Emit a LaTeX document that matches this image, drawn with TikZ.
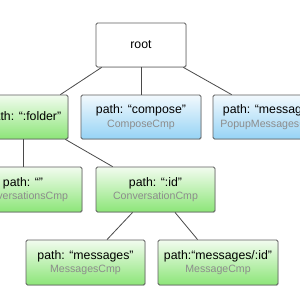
\documentclass[tikz,border=0pt]{standalone}
\usepackage{fontspec}
\setmainfont{Liberation Sans}
\usetikzlibrary{shadows,calc}
\definecolor{gtop}{HTML}{F2FCEF}
\definecolor{gbot}{HTML}{8CE578}
\definecolor{btop}{HTML}{F2F9FD}
\definecolor{bbot}{HTML}{96D3F5}
\definecolor{cmpgray}{HTML}{8C8C8C}
\definecolor{edge}{HTML}{4A4A4A}
\definecolor{frame}{HTML}{5E5E5E}
\tikzset{
  basebox/.style={draw=frame, line width=0.8pt, rounded corners=1.5pt,
    minimum height=44pt, inner sep=0pt, align=center,
    font=\fontsize{12.3}{13.5}\selectfont,
    drop shadow={shadow xshift=0.6pt, shadow yshift=-0.9pt, opacity=0.25}},
  plainbox/.style={basebox, fill=white},
  gbox/.style={basebox, top color=gtop, bottom color=gbot},
  bbox/.style={basebox, top color=btop, bottom color=bbot},
  link/.style={draw=edge, line width=0.8pt},
}
\newcommand{\cmp}[1]{{\color{cmpgray}\fontsize{10.6}{13.5}\selectfont #1}}
\begin{document}
\begin{tikzpicture}[x=1pt,y=-1pt]
\useasboundingbox (0,0) rectangle (300,300);
\fill[white] (0,0) rectangle (300,300);
\clip (0,0) rectangle (300,300);
\node[plainbox, minimum width=90pt] (root) at (141,45) {root};
\node[gbox, minimum width=88pt] (folder) at (24,117) {path: “:folder”};
\node[bbox, minimum width=120pt] (compose) at (141,117) {path: “compose”\\\cmp{ComposeCmp}};
\node[bbox, minimum width=116pt] (popup) at (271,117) {path: “messages”\\\cmp{PopupMessagesCmp}};
\node[gbox, minimum width=118pt, minimum height=45pt] (empty) at (23,189.5) {path: “”\\\cmp{ConversationsCmp}};
\node[gbox, minimum width=119pt, minimum height=45pt] (id) at (155.5,189.5) {path: “:id”\\\cmp{ConversationCmp}};
\node[gbox, minimum width=119pt, minimum height=45pt] (msgs) at (85.5,262.5) {path: “messages”\\\cmp{MessagesCmp}};
\node[gbox, minimum width=120pt, minimum height=45pt] (msg) at (218,262.5) {path:“messages/:id”\\\cmp{MessageCmp}};
\draw[link] ($(root.south west)+(6,0)$) -- ($(folder.north east)+(-8,0)$);
\draw[link] (root.south) -- (compose.north);
\draw[link] ($(root.south east)+(-3,0)$) -- ($(popup.north west)+(19,0)$);
\draw[link] (empty.north |- folder.south) -- (empty.north);
\draw[link] ($(folder.south east)+(-3,0)$) -- ($(id.north west)+(17,0)$);
\draw[link] ($(id.south west)+(37,0)$) -- ($(msgs.north)+(21.5,0)$);
\draw[link] ($(id.south)+(19.5,0)$) -- ($(msg.north west)+(40,0)$);
\end{tikzpicture}
\end{document}
